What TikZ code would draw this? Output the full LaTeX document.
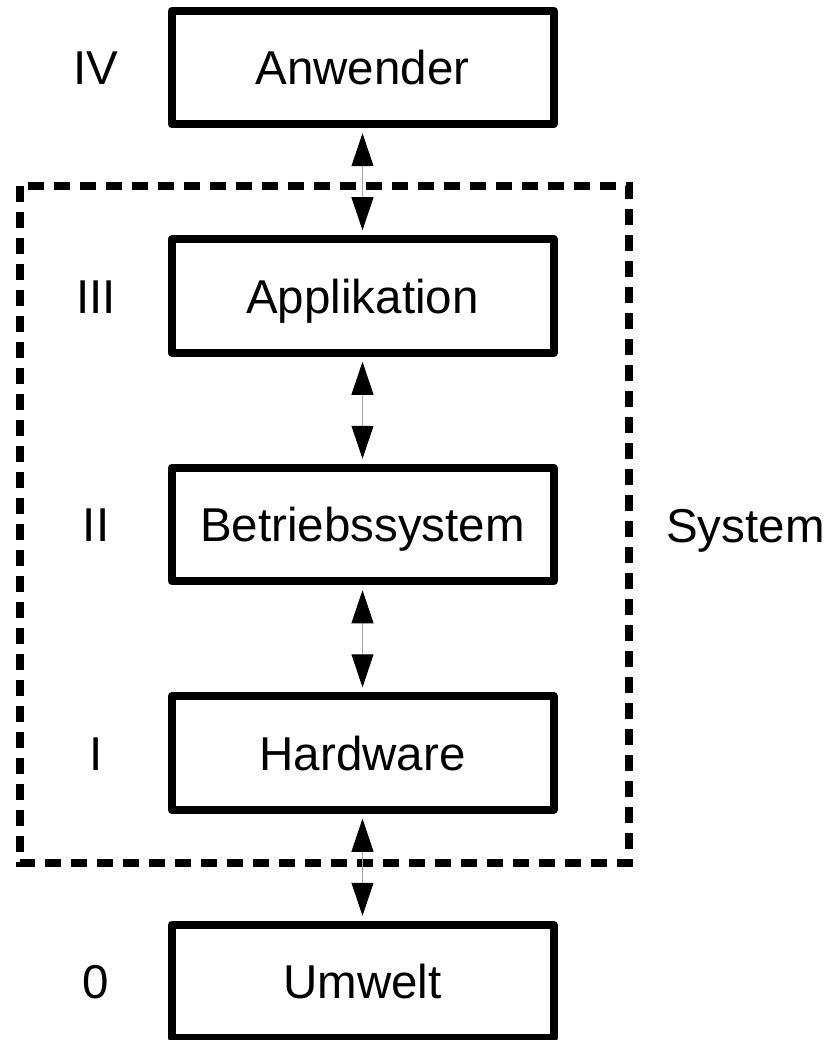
\documentclass[tikz,border=0pt]{standalone}
\usepackage{fontspec}
\setmainfont{Liberation Sans}
\usetikzlibrary{arrows.meta}
\begin{document}
\begin{tikzpicture}[x=1pt,y=-1pt,
  txt/.style={font=\fontsize{47.5}{52}\selectfont, text height=34pt, text depth=0pt, inner sep=0pt},
  layerbox/.style={txt, draw, line width=8pt, line join=round,
    minimum width=382pt, minimum height=113.5pt},
  levellabel/.style={txt},
  link/.style={gray!70, line width=1pt,
    {Triangle[length=33pt,width=22pt,black]}-{Triangle[length=33pt,width=22pt,black]},
    shorten <=5pt, shorten >=5pt},
  sysframe/.style={line width=8pt, dash pattern=on 16pt off 10pt}]
\useasboundingbox (0,0) rectangle (830,1040);

% layer boxes
\node[layerbox] (anw) at (362.5,67.5)  {Anwender};
\node[layerbox] (app) at (362.5,296)   {Applikation};
\node[layerbox] (bs)  at (362.5,524.5) {Betriebssystem};
\node[layerbox] (hw)  at (362.5,753)   {Hardware};
\node[layerbox] (uw)  at (362.5,981.5) {Umwelt};

% level numbers
\node[levellabel] (l4) at (96,67.5)  {IV};
\node[levellabel] (l3) at (96,296)   {III};
\node[levellabel] (l2) at (96,524.5) {II};
\node[levellabel] (l1) at (96,753)   {I};
\node[levellabel] (l0) at (96,981.5) {0};

% system boundary
\draw[sysframe] (20,186) rectangle (629,863);
\node[txt, anchor=west] (sys) at (666,525.5) {System};

% interfaces between layers
\draw[link] (anw.south) -- (app.north);
\draw[link] (app.south) -- (bs.north);
\draw[link] (bs.south) -- (hw.north);
\draw[link] (hw.south) -- (uw.north);
\end{tikzpicture}
\end{document}
